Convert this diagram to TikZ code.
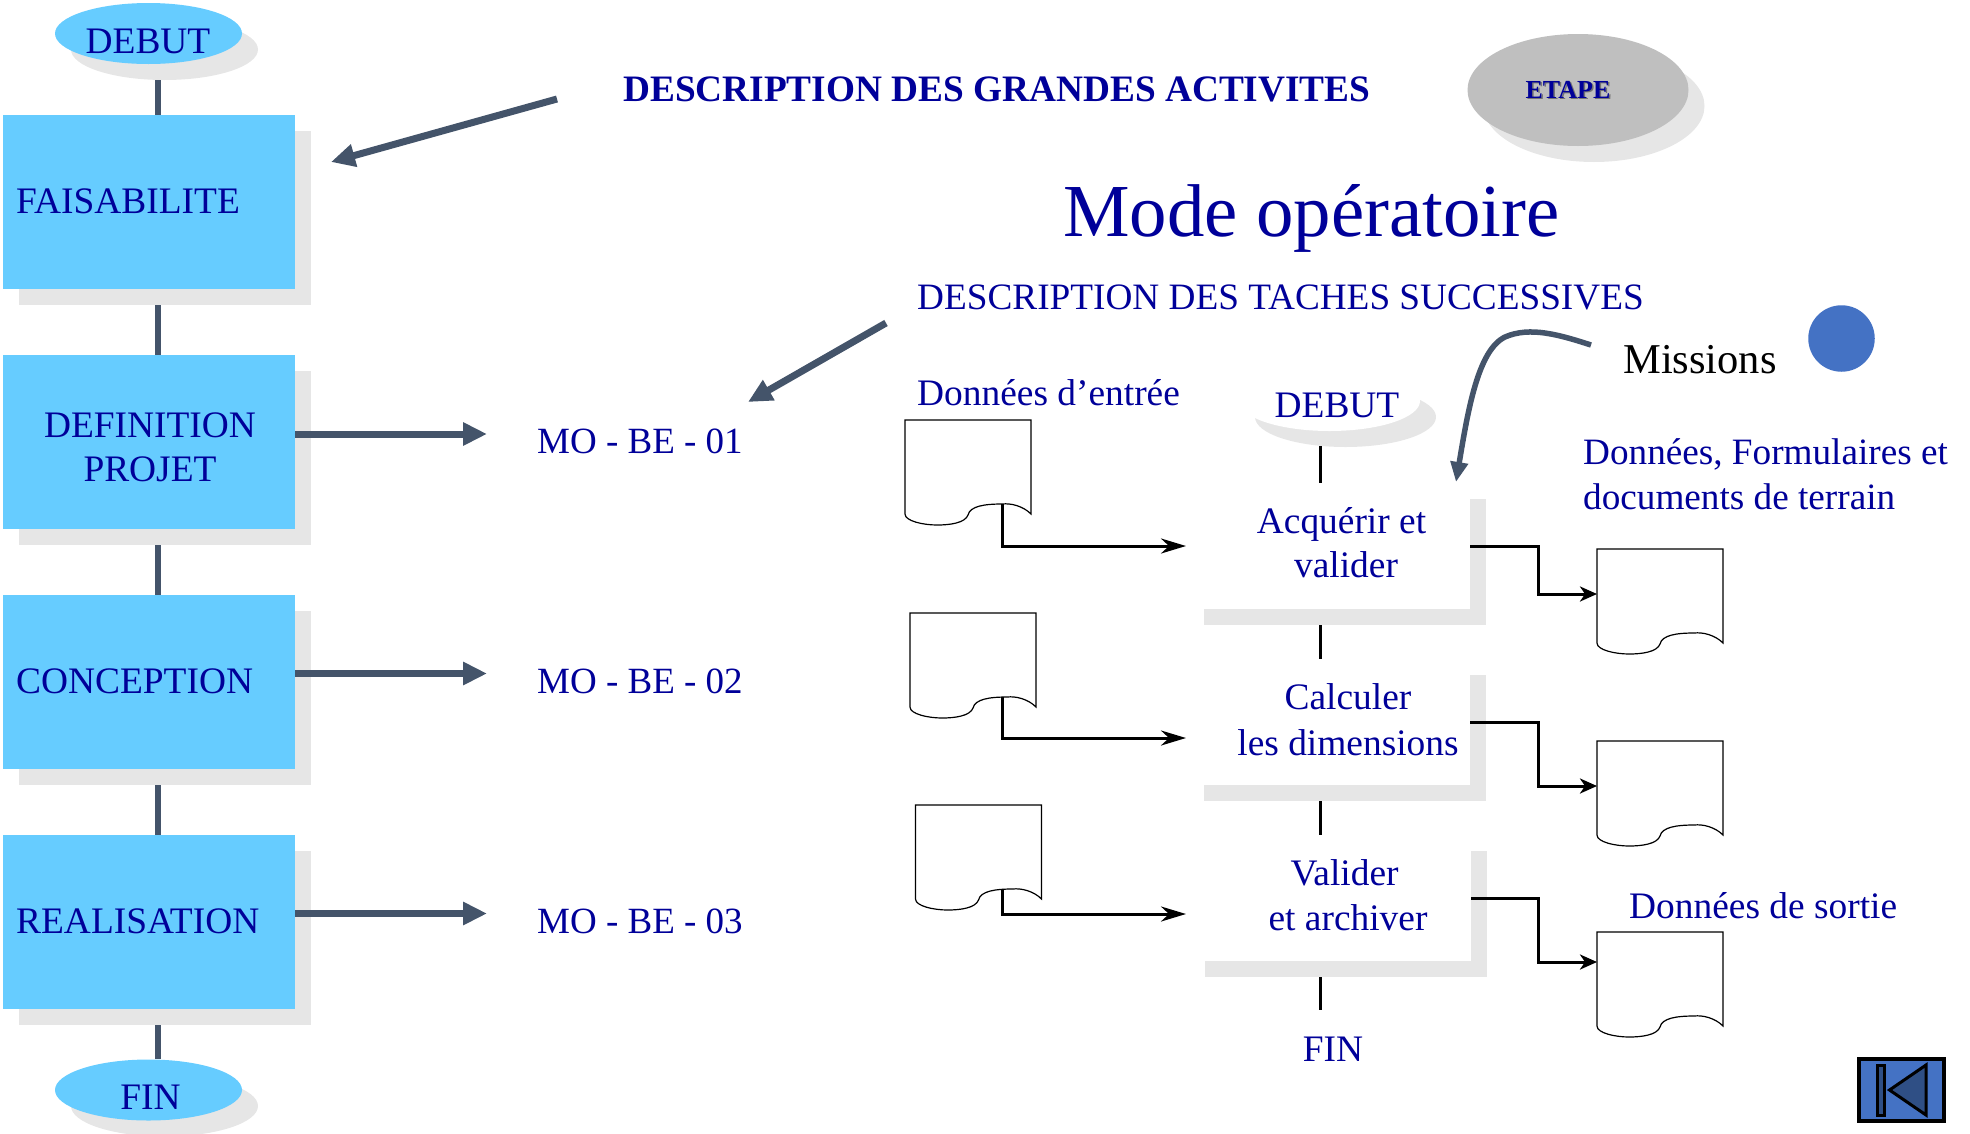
\documentclass[tikz,border=0pt]{standalone}
\usepackage{fontspec}
\setmainfont{Liberation Serif}
\usetikzlibrary{shapes.geometric,arrows.meta,backgrounds}
\definecolor{navy}{HTML}{000099}
\definecolor{sky}{HTML}{66CCFF}
\definecolor{shade}{HTML}{E6E6E6}
\definecolor{slate}{HTML}{44546A}
\definecolor{royal}{HTML}{4472C4}
\definecolor{deep}{HTML}{2F4F85}
\newcommand{\fsz}[1]{\fontsize{#1}{#1}\selectfont}
\tikzset{
  x=1pt,y=-1pt,
  txt/.style={inner sep=0,text=navy,font=\fsz{37.4},align=center},
  leftxt/.style={txt,anchor=west},
  molabel/.style={leftxt,font=\fsz{37}},
  phase/.style={rectangle,fill=sky,inner sep=0,minimum width=292pt,minimum height=174pt},
  phaseshade/.style={rectangle,fill=shade,inner sep=0,minimum width=292pt,minimum height=174pt},
  term/.style={ellipse,fill=sky,inner sep=0,minimum width=187pt,minimum height=61pt},
  termshade/.style={ellipse,fill=shade,inner sep=0,minimum width=187pt,minimum height=61pt},
  task/.style={rectangle,fill=white,inner sep=0,minimum width=282pt,minimum height=126pt},
  taskshade/.style={rectangle,fill=shade,inner sep=0,minimum width=282pt,minimum height=126pt},
  spine/.style={draw=slate,line width=5.5pt},
  bigarrow/.style={draw=slate,line width=7pt,-{Triangle[length=24pt,width=22pt]}},
  tick/.style={draw=black,line width=3pt},
  flow/.style={draw=black,line width=3pt,-{Stealth[length=25pt,width=15pt,inset=8pt]}},
  flowout/.style={draw=black,line width=3pt,-{Stealth[length=17pt,width=15pt,inset=5pt]}},
  docpic/.pic={
    \draw[fill=white,line width=1.2pt] (0,0) -- (126,0) -- (126,94)
      .. controls (118,86) and (106,83) .. (97,84)
      .. controls (80,84) and (65,86) .. (63,95)
      .. controls (60,103) and (45,105) .. (32,105)
      .. controls (18,105) and (0,101) .. (0,94) -- cycle;
    \coordinate (-tab) at (97,84);
    \coordinate (-in) at (0,45);
  }
}
\begin{document}
\begin{tikzpicture}
\useasboundingbox (0,0) rectangle (1970,1133);
% left column
\node[termshade] (ds) at (164.5,49.5) {};
\node[term] (d) at (148.5,33.5) {};
\foreach \n/\yy in {1/202,2/442,3/682,4/922}{
  \node[phaseshade] (ps\n) at (165,\yy+16) {};
  \node[phase] (p\n) at (149,\yy) {};
}
\node[termshade] (fs) at (164.5,1106) {};
\node[term] (f) at (148.5,1090) {};
\coordinate (sp) at (158,0);
\begin{pgfonlayer}{background}
  \draw[spine] (sp |- ds.south) -- (sp |- p1.north);
  \draw[spine] (sp |- ps1.south) -- (sp |- p2.north);
  \draw[spine] (sp |- ps2.south) -- (sp |- p3.north);
  \draw[spine] (sp |- ps3.south) -- (sp |- p4.north);
  \draw[spine] (sp |- ps4.south) -- (sp |- f.north);
\end{pgfonlayer}
\node[txt] (td) at (148,41.5) {DEBUT};
\node[leftxt] (t1) at (16,201) {FAISABILITE};
\node[txt,font=\fontsize{37.4}{44}\selectfont] (t2) at (150,447) {DEFINITION\\PROJET};
\node[leftxt] (t3) at (16,681) {CONCEPTION};
\node[leftxt] (t4) at (16,921) {REALISATION};
\node[txt] (tf) at (150.5,1097) {FIN};
% MO labels
\node[molabel] (m1) at (537,441) {MO - BE - 01};
\node[molabel] (m2) at (537,681) {MO - BE - 02};
\node[molabel] (m3) at (537,921) {MO - BE - 03};
\coordinate (m1e) at (487,434);
\coordinate (m2e) at (487,673.5);
\coordinate (m3e) at (487,913.5);
\draw[bigarrow] (p2.east |- m1e) -- (m1e);
\draw[bigarrow] (p3.east |- m2e) -- (m2e);
\draw[bigarrow] (p4.east |- m3e) -- (m3e);
% headings
\node[leftxt,font=\bfseries\fsz{37.3}] (h1) at (623,89) {DESCRIPTION DES GRANDES ACTIVITES};
\coordinate (h1s) at (557,99);
\coordinate (h1e) at (331,162);
\draw[bigarrow] (h1s) -- (h1e);
\node[ellipse,fill=shade,inner sep=0,minimum width=221pt,minimum height=112pt] (es) at (1594,106) {};
\node[ellipse,fill=black!25,inner sep=0,minimum width=221pt,minimum height=112pt] (e) at (1578,90) {};
\node[inner sep=0,text=black!55,font=\bfseries\fsz{26}] at (1569.5,91) {ETAPE};
\node[txt,font=\bfseries\fsz{26}] (et) at (1568,89.5) {ETAPE};
\node[leftxt,font=\fsz{74.8}] (title) at (1063,218.5) {Mode opératoire};
\node[leftxt,font=\fsz{37.25}] (h2) at (917,297) {DESCRIPTION DES TACHES SUCCESSIVES};
\coordinate (h2s) at (886,323);
\coordinate (h2e) at (748,402);
\draw[bigarrow] (h2s) -- (h2e);
% missions
\node[leftxt,text=black,font=\fsz{42.5}] (mis) at (1623,360) {Missions};
\node[circle,fill=royal,inner sep=0,minimum size=66.5pt] (dot) at (1841.5,338.5) {};
\coordinate (cs) at (1591,345);
\coordinate (ce) at (1456,482);
\draw[slate,line width=5.5pt,-{Triangle[length=20pt,width=17pt]}] (cs)
  .. controls (1560,335) and (1530,326) .. (1505,337)
  .. controls (1478,350) and (1468,410) .. (ce);
% central column
\node[ellipse,fill=shade,inner sep=0,minimum width=181pt,minimum height=60pt] (ms) at (1345.5,417) {};
\node[ellipse,fill=white,inner sep=0,minimum width=181pt,minimum height=60pt] (mw) at (1329.5,401) {};
\node[txt] (mt) at (1337,405) {DEBUT};
\node[taskshade] (ss1) at (1345,562) {};
\node[task] (b1) at (1329,546) {};
\node[taskshade] (ss2) at (1345,738) {};
\node[task] (b2) at (1329,722) {};
\node[taskshade] (ss3) at (1346,914) {};
\node[task] (b3) at (1330,898) {};
\node[txt,font=\fontsize{37.4}{44}\selectfont] (l1) at (1346,543) {Acquérir et\rule{9pt}{0pt}\\valider};
\node[txt,font=\fontsize{37.4}{45.5}\selectfont] (l2) at (1348,719.5) {Calculer\\les dimensions};
\node[txt,font=\fontsize{37.4}{45}\selectfont] (l3) at (1348,895) {Valider\rule{7pt}{0pt}\\et archiver};
\node[txt] (fin) at (1333,1049) {FIN};
\coordinate (v) at (1320,0);
\coordinate (fe) at (1320,1010);
\draw[tick] (v |- ms.south) ++(0,-1) -- (v |- b1.north);
\draw[tick] (v |- ss1.south) -- (v |- b2.north);
\draw[tick] (v |- ss2.south) -- (v |- b3.north);
\draw[tick] (v |- ss3.south) -- (fe);
% documents
\pic (d1) at (905,420) {docpic};
\pic (d2) at (910,613) {docpic};
\pic (d3) at (915.5,805) {docpic};
\pic (r1) at (1597,549) {docpic};
\pic (r2) at (1597,741) {docpic};
\pic (r3) at (1597,932) {docpic};
\coordinate (a1) at (1186,546);
\coordinate (a2) at (1186,738);
\coordinate (a3) at (1186,914);
\coordinate (r3i) at (1597,962);
\coordinate (tabx) at (1002,0);
\draw[flow] (tabx |- d1-tab) |- (a1);
\draw[flow] (tabx |- d2-tab) |- (a2);
\draw[flow] (tabx |- d3-tab) |- (a3);
\draw[flowout] (b1.east) -- ++(68,0) |- (r1-in);
\draw[flowout] (b2.east) -- ++(68,0) |- (r2-in);
\draw[flowout] (b3.east) -- ++(67,0) |- (r3i);
\node[leftxt] (de) at (917,393) {Données d’entrée};
\node[txt,align=left,anchor=west,font=\fontsize{37.2}{45}\selectfont] (df) at (1583,474.5) {Données, Formulaires et\\documents de terrain};
\node[leftxt] (ds2) at (1629,905.5) {Données de sortie};
% return button
\node[rectangle,draw=black,line width=3.5pt,fill=royal,inner sep=0,minimum width=85pt,minimum height=62pt] (btn) at (1901.5,1090) {};
\draw[black,line width=3pt,fill=deep] (1877,1065) rectangle (1884,1115);
\draw[black,line width=3pt,fill=deep,line join=miter] (btn.center) ++(-12,0) -- (1926,1065) -- (1926,1115) -- cycle;
\end{tikzpicture}
\end{document}
